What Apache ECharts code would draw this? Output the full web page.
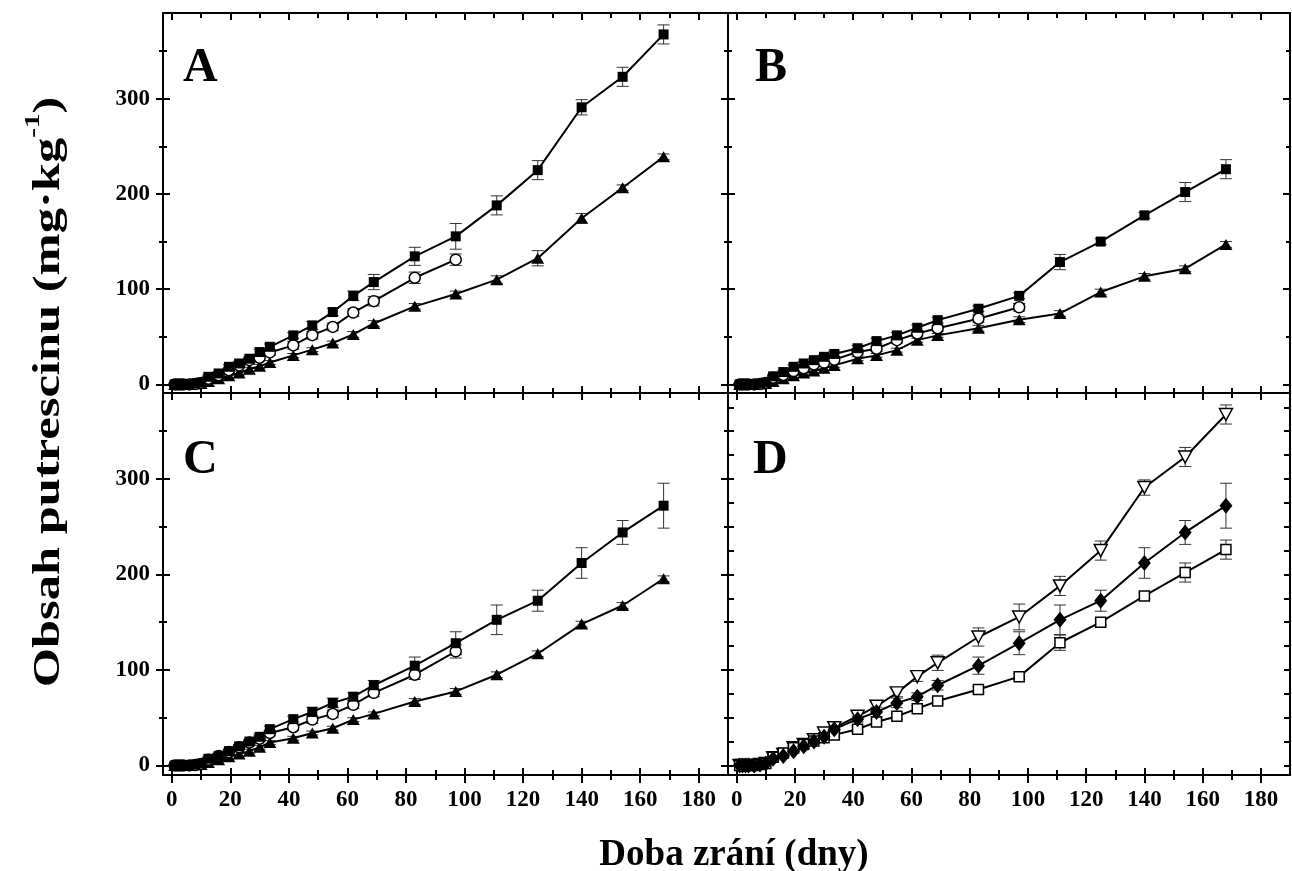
<!DOCTYPE html>
<html><head><meta charset="utf-8">
<script src="https://cdn.jsdelivr.net/npm/echarts@6/dist/echarts.min.js"></script>
<style>html,body{margin:0;padding:0;background:#fff}#c{width:1292px;height:871px}</style>
</head><body><div id="c"></div>
<script>
// ---- data (days of ripening) ----
const days = [1,2,3,4,6,8,10,12.5,16,19.5,23,26.5,30,33.5,41.5,48,55,62,69,83,97,111,125,140,154,168];
const daysShort = days.slice(0, 21); // open-circle series end at day 97

// Panel A
const A_sq     = [0,0,0,0,0,1,2,8,11.5,18.5,22,27,34,39.5,51.5,62,76,93,107.5,134.5,155.5,188,225,291,323,367.5];
const A_sq_err = [1,1,1,1,1,1,1,2,2,2,2,2,3,3,3,4,4,5,8,9.5,13.5,10,10,8,10,10];
const A_ci     = [0,0,0,0,0,0.5,1.5,6,9.7,15,20,25.5,28,33.6,41,51.7,60.4,75.5,87.4,112,131];
const A_ci_err = [1,1,1,1,1,1,1,2,2,2,2,3,3,3,4,4,4,4,5,6,6];
const A_tr     = [0,0,0,0,0,0.5,1,3,6,9,12,16,19,23,30.5,36.5,43.5,52.5,64,82,95,110,132.5,174.5,206.5,239];
const A_tr_err = [1,1,1,1,1,1,1,1,1,2,2,2,2,2,2,2,2,3,3,3,3,4,8,5,3,3];

// Panel B
const B_sq     = [0,0,0,0,0,1,2,8.5,13,18.5,22,25.5,29,32,38,45.5,51.5,59.5,67.5,79.5,93,128.5,150,177.5,202,226];
const B_sq_err = [1,1,1,1,1,1,1,2,2,2,2,2,2,3,3,3,3,3,3,3,3,8,3,3,10,10];
const B_ci     = [0,0,0,0,0,0.5,1.5,7,10,14,17,21,23,26,34,37.5,46.5,53.5,59,69,81];
const B_ci_err = [1,1,1,1,1,1,1,2,2,2,2,2,2,3,3,3,3,3,3,4,4];
const B_tr     = [0,0,0,0,0,0.5,1,3,6,9,12,14,17,20,27,30.5,36,46.5,51.5,59,68,74.5,97,113.5,121.5,147];
const B_tr_err = [1,1,1,1,1,1,1,1,1,2,2,2,2,2,2,2,2,2,2,3,3,3,3,3,3,3];

// Panel C
const C_sq     = [0,0,0,0,0,1,2,7,10,15,20,25,30,38,48.5,56,65.5,72,84,104.5,128,152.5,172.5,212,244,272];
const C_sq_err = [1,1,1,1,1,1,1,2,2,2,2,2,3,3,3,5,5,4,5,9,12,15.5,11,16,12.5,23.5];
const C_ci     = [0,0,0,0,0,0.5,1.5,6,10,14,19,24,28,34,40,48,54,63.5,76,95,119.5];
const C_ci_err = [1,1,1,1,1,1,1,2,2,2,2,2,3,3,3,4,4,4,4,5,7];
const C_tr     = [0,0,0,0,0,0.5,1,3,6,9,12,15,19,24,28.5,34,39,48,54,67,77.5,95,117,148,167.5,195.5];
const C_tr_err = [1,1,1,1,1,1,1,1,1,2,2,2,2,2,2,2,2,2,2,3,3,3,3,3,3,3];

// Panel D: comparison of the square series from A, B and C
const D_inv = A_sq, D_inv_err = A_sq_err;   // open down-triangle
const D_dia = C_sq, D_dia_err = C_sq_err;   // filled diamond
const D_osq = B_sq, D_osq_err = B_sq_err;   // open square

// ---- tick values / labels ----
const xMajorTicks = [0,20,40,60,80,100,120,140,160,180];
const xMinorTicks = [10,30,50,70,90,110,130,150,170];
const yMajorTicks = [0,100,200,300];
const yMinorTicks = [50,150,250,350];
const yTicksD = [0,25,50,75,100,125,150,175,200,225,250,275,300,325,350,375];
const panelLetters = ['A','B','C','D'];
const xTitle = 'Doba zrání (dny)';
const yTitleMain = 'Obsah putrescinu (mg·kg';
const yTitleSup = '-1';

// ---- layout ----
const FONT = '"Liberation Serif", "Times New Roman", serif';
const grids = [
  {left:163, top:13, width:565, height:380},
  {left:728, top:13, width:562, height:380},
  {left:163, top:393, width:565, height:382},
  {left:728, top:393, width:562, height:382}
];
const yRanges = [[-9,390],[-9,390],[-10,390],[-10,390]];
const xRange = [-3,190];

const xAxes = [], yAxes = [];
const labelStyle = {color:'#000', fontFamily:FONT, fontWeight:'bold', fontSize:23};
function addX(g, pos, vals, len, inside, label) {
  xAxes.push({type:'value', gridIndex:g, position:pos, min:xRange[0], max:xRange[1],
    axisLine:{show:false, onZero:false}, splitLine:{show:false},
    axisTick:{show:true, inside:inside, length:len, customValues:vals, lineStyle:{color:'#000', width:2}},
    axisLabel: label ? Object.assign({show:true, customValues:vals, margin:14}, labelStyle) : {show:false}
  });
  return xAxes.length - 1;
}
function addY(g, pos, vals, len, inside, label) {
  yAxes.push({type:'value', gridIndex:g, position:pos, min:yRanges[g][0], max:yRanges[g][1],
    axisLine:{show:false, onZero:false}, splitLine:{show:false},
    axisTick:{show:true, inside:inside, length:len, customValues:vals, lineStyle:{color:'#000', width:2}},
    axisLabel: label ? Object.assign({show:true, customValues:vals, margin:13}, labelStyle) : {show:false}
  });
  return yAxes.length - 1;
}
const prim = [];
for (let g = 0; g < 4; g++) {
  const px = addX(g, 'bottom', xMajorTicks, 7, true, false);
  addX(g, 'bottom', xMinorTicks, 5, true, false);
  addX(g, 'top', xMajorTicks, 7, true, false);
  addX(g, 'top', xMinorTicks, 5, true, false);
  if (g >= 2) {
    addX(g, 'bottom', xMajorTicks, 8, false, true);
    addX(g, 'bottom', xMinorTicks, 5, false, false);
  }
  let py;
  if (g === 3) {
    py = addY(g, 'left', yTicksD, 6, true, false);
    addY(g, 'right', yTicksD, 6, true, false);
  } else {
    py = addY(g, 'left', yMajorTicks, 7, true, false);
    addY(g, 'left', yMinorTicks, 4, true, false);
    addY(g, 'right', yMajorTicks, 7, true, false);
    addY(g, 'right', yMinorTicks, 4, true, false);
    if (g === 0 || g === 2) {
      addY(g, 'left', yMajorTicks, 7, false, true);
      addY(g, 'left', yMinorTicks, 4, false, false);
    }
  }
  prim.push([px, py]);
}

const SYM = {
  sq:  {symbol:'rect', symbolSize:10, color:'#000', bw:0},
  ci:  {symbol:'circle', symbolSize:11, color:'#fff', bw:1.5},
  tr:  {symbol:'triangle', symbolSize:[13,11], color:'#000', bw:0},
  inv: {symbol:'triangle', symbolSize:[13,12], color:'#fff', bw:1.5, rotate:180},
  dia: {symbol:'diamond', symbolSize:[13,16], color:'#000', bw:0},
  osq: {symbol:'rect', symbolSize:10, color:'#fff', bw:1.5}
};
const series = [];
function addSeries(g, xs, ys, es, s) {
  const [px, py] = prim[g];
  series.push({type:'custom', xAxisIndex:px, yAxisIndex:py, silent:true, animation:false, z:2,
    data: xs.map((x,i)=>[x, ys[i], es[i]]),
    renderItem: (params, api) => {
      const x = api.value(0), y = api.value(1), e = api.value(2);
      const p1 = api.coord([x, y + e]), p2 = api.coord([x, y - e]);
      const w = 6, st = {stroke:'#333', lineWidth:1};
      return {type:'group', children:[
        {type:'line', shape:{x1:p1[0], y1:p1[1], x2:p2[0], y2:p2[1]}, style:st},
        {type:'line', shape:{x1:p1[0]-w, y1:p1[1], x2:p1[0]+w, y2:p1[1]}, style:st},
        {type:'line', shape:{x1:p2[0]-w, y1:p2[1], x2:p2[0]+w, y2:p2[1]}, style:st}
      ]};
    }
  });
  series.push({type:'line', xAxisIndex:px, yAxisIndex:py, animation:false, z:3,
    data: xs.map((x,i)=>[x, ys[i]]),
    symbol:s.symbol, symbolSize:s.symbolSize, symbolRotate:s.rotate || 0,
    itemStyle:{color:s.color, borderColor:'#000', borderWidth:s.bw, opacity:1},
    lineStyle:{color:'#000', width:2}
  });
}
addSeries(0, days, A_tr, A_tr_err, SYM.tr);
addSeries(0, daysShort, A_ci, A_ci_err, SYM.ci);
addSeries(0, days, A_sq, A_sq_err, SYM.sq);
addSeries(1, days, B_tr, B_tr_err, SYM.tr);
addSeries(1, daysShort, B_ci, B_ci_err, SYM.ci);
addSeries(1, days, B_sq, B_sq_err, SYM.sq);
addSeries(2, days, C_tr, C_tr_err, SYM.tr);
addSeries(2, daysShort, C_ci, C_ci_err, SYM.ci);
addSeries(2, days, C_sq, C_sq_err, SYM.sq);
addSeries(3, days, D_inv, D_inv_err, SYM.inv);
addSeries(3, days, D_osq, D_osq_err, SYM.osq);
addSeries(3, days, D_dia, D_dia_err, SYM.dia);

const letterPos = [[183,71],[755,71],[183,463],[753,463]];
const graphic = panelLetters.map((t,i)=>({
  type:'text', left:letterPos[i][0], top:letterPos[i][1] - 26, silent:true,
  style:{text:t, fill:'#000', font:'bold 48px ' + FONT}
}));
graphic.push({type:'text', x:734, y:855, silent:true,
  style:{text:xTitle, fill:'#000', font:'bold 37px ' + FONT, align:'center', verticalAlign:'middle'}});
graphic.push({type:'text', x:45, y:392, rotation:Math.PI/2, scaleX:1.33, silent:true,
  style:{text:'{n|' + yTitleMain + '}{s|' + yTitleSup + '}{n|)}', align:'center', verticalAlign:'middle',
    rich:{
      n:{fontSize:38, fontWeight:'bold', fontFamily:FONT, fill:'#000', lineHeight:46, verticalAlign:'bottom'},
      s:{fontSize:22, fontWeight:'bold', fontFamily:FONT, fill:'#000', lineHeight:22, verticalAlign:'top'}
    }}});

const chart = echarts.init(document.getElementById('c'), null, {renderer:'canvas'});
chart.setOption({
  animation:false,
  backgroundColor:'#fff',
  grid: grids.map(g => Object.assign({show:true, borderColor:'#000', borderWidth:2, backgroundColor:'transparent', containLabel:false}, g)),
  xAxis: xAxes,
  yAxis: yAxes,
  series: series,
  graphic: graphic
});
</script>
</body></html>
